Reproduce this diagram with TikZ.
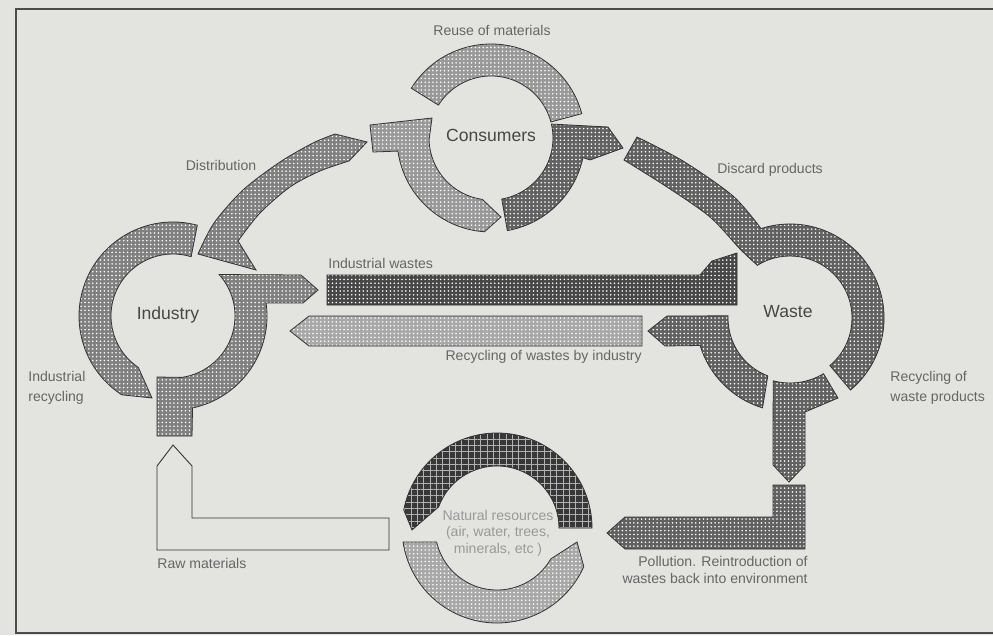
\documentclass[tikz,border=0pt]{standalone}
\usepackage{fontspec}
\setmainfont{Liberation Sans}
\usetikzlibrary{calc,patterns.meta}
\definecolor{paper}{RGB}{227,227,223}
\begin{document}
\begin{tikzpicture}
[x=0.02cm, y=0.02cm, yscale=-1,
halftone/.style={postaction={pattern={Dots[distance=2.2pt,radius=.5pt]}, pattern color=white},
                 postaction={draw=black!80, line width=.45pt}},
palebar/.style={fill=black!34, halftone},
lightband/.style={fill=black!40, halftone},
midband/.style={fill=black!50, halftone},
darkband/.style={fill=black!62, halftone},
wastebar/.style={fill=black!72, halftone},
gridband/.style={fill=black!78,
                 postaction={pattern={Hatch[angle=0,distance=3.6pt,line width=.45pt]}, pattern color=black!30},
                 postaction={draw=black!80, line width=.45pt}},
rawband/.style={draw=black!80, line width=.5pt, fill=paper}
]
\tikzset{lbl/.style={font=\fontsize{8}{11}\selectfont, text=black!60, inner sep=0pt},
         hub/.style={font=\fontsize{10}{12}\selectfont, text=black!72, inner sep=0pt}}
%\tikzset{lbl/.style={font=\footnotesize, text=black!60}}
\useasboundingbox (0,0) rectangle (993,635);
\fill[paper] (0,0) rectangle (993,635);
\draw[black!70, line width=.8pt] (993,9) -- (16,9) -- (16,633) -- (993,633);

\coordinate (industry) at (173,316);
\coordinate (consumers) at (491,138);
\coordinate (waste) at (790,318);
\coordinate (nature) at (497,528);

% consumers
\fill[lightband] ($(consumers)+(-148:94)$) arc[start angle=-148, end angle=-15, radius=94]
    -- ($(consumers)+(-15:62)$) arc[start angle=-15, end angle=-148, radius=62] -- cycle;
\fill[lightband] (370,125) -- (432,118) -- ($(consumers)+(178:62)$)
    arc[start angle=178, end angle=98, radius=62] -- (501,217)
    -- ($(consumers)+(94:94)$) arc[start angle=94, end angle=172, radius=94] -- (373,152) -- cycle;
\fill[darkband] ($(consumers)+(80:62)$) arc[start angle=80, end angle=-13, radius=62]
    -- (608,127) -- (623,148) -- (590,160)
    -- ($(consumers)+(12:94)$) arc[start angle=12, end angle=80, radius=94] -- cycle;

% distribution
\fill[midband] plot[smooth] coordinates {(198,254) (214,223) (243,190) (280,162) (313,143) (335,134)}
    -- (367,142) -- (349,161)
    -- plot[smooth] coordinates {(349,161) (320,171) (290,187) (260,213) (238,241)}
    -- (256,270) -- cycle;

% industry
\fill[midband] ($(industry)+(-75:94)$) arc[start angle=-75, end angle=-237, radius=94]
    -- (152,398) -- ($(industry)+(-236:62)$) arc[start angle=-236, end angle=-73, radius=62] -- cycle;
\fill[midband] (157,377) -- (157,436) -- (192,436) -- ($(industry)+(78:94)$)
    arc[start angle=78, end angle=-8, radius=94] -- (303,303) -- (318,290) -- (301,275)
    -- ($(industry)+(-42:62)$) arc[start angle=-42, end angle=82, radius=62] -- cycle;

% bars between industry and waste
\fill[wastebar] (327,275) -- (700,275) -- (712,261) -- (737,253) -- (737,305) -- (327,305) -- cycle;
\fill[palebar] (290,331) -- (309,316) -- (642,316) -- (642,346) -- (309,346) -- cycle;

% waste
\fill[darkband] plot[smooth] coordinates {(637,137) (683,161) (733,196) (761,228.6)}
    arc[start angle=-108, end angle=50, radius=94]
    -- ($(waste)+(50:62)$) arc[start angle=50, end angle=-122, radius=62]
    -- plot[smooth] coordinates {(757,265) (740,249) (710,217) (667,187) (624,160)} -- cycle;
\fill[darkband] ($(waste)+(182:62)$) -- (667,316) -- (648,331) -- (665,346)
    -- ($(waste)+(163:94)$) arc[start angle=163, end angle=107, radius=94]
    -- ($(waste)+(111:62)$) arc[start angle=111, end angle=182, radius=62] -- cycle;
\fill[darkband] ($(waste)+(105:65)$) arc[start angle=105, end angle=59, radius=65]
    -- (838,398) -- (805,412) -- (805,465) -- (789,482) -- (773,465) -- cycle;
\fill[darkband] (773,485) -- (805,485) -- (805,549) -- (625,549) -- (607,533) -- (625,517)
    -- (773,517) -- cycle;

% natural resources
\fill[gridband] ($(nature)+(0:62)$) -- ($(nature)+(0:95)$) arc[start angle=0, end angle=-169, radius=95]
    -- (412,530) -- ($(nature)+(-160:62)$) arc[start angle=-160, end angle=0, radius=62] -- cycle;
\fill[palebar] ($(nature)+(171.5:95)$) arc[start angle=171.5, end angle=24, radius=95]
    -- (577,542) -- ($(nature)+(30:62)$) arc[start angle=30, end angle=167, radius=62] -- cycle;
\filldraw[rawband] (173,445) -- (192,466) -- (192,518) -- (389,518) -- (389,550) -- (157,550)
    -- (157,466) -- cycle;

% labels
\node[hub] (consumerslbl) at (491,135) {Consumers};
\node[hub] (industrylbl) at (168,315) {Industry};
\node[hub] (wastelbl) at (788,312) {Waste};
\node[lbl] (reuse) at (492,30) {Reuse of materials};
\node[lbl] (distribution) at (221,165) {Distribution};
\node[lbl] (discard) at (770,170) {Discard products};
\node[lbl, anchor=west] (indwastes) at (328,263) {Industrial wastes};
\node[lbl, anchor=east] (recyind) at (642,357) {Recycling of wastes by industry};
\node[lbl, anchor=west, align=left] (indrecy) at (28,388) {Industrial\\recycling};
\node[lbl, anchor=west, align=left] (wasterecy) at (890,388) {Recycling of\\waste products};
\node[lbl, anchor=west] (raw) at (157,563) {Raw materials};
\node[lbl, anchor=east, align=right, font=\fontsize{8}{9.2}\selectfont] (pollution) at (808,570)
    {Pollution. Reintroduction of\\wastes back into environment};
\node[lbl, align=center, text=black!40, font=\fontsize{8}{9.4}\selectfont] (resources) at (498,533)
    {Natural resources\\(air, water, trees,\\minerals, etc )};
\end{tikzpicture}
\end{document}
